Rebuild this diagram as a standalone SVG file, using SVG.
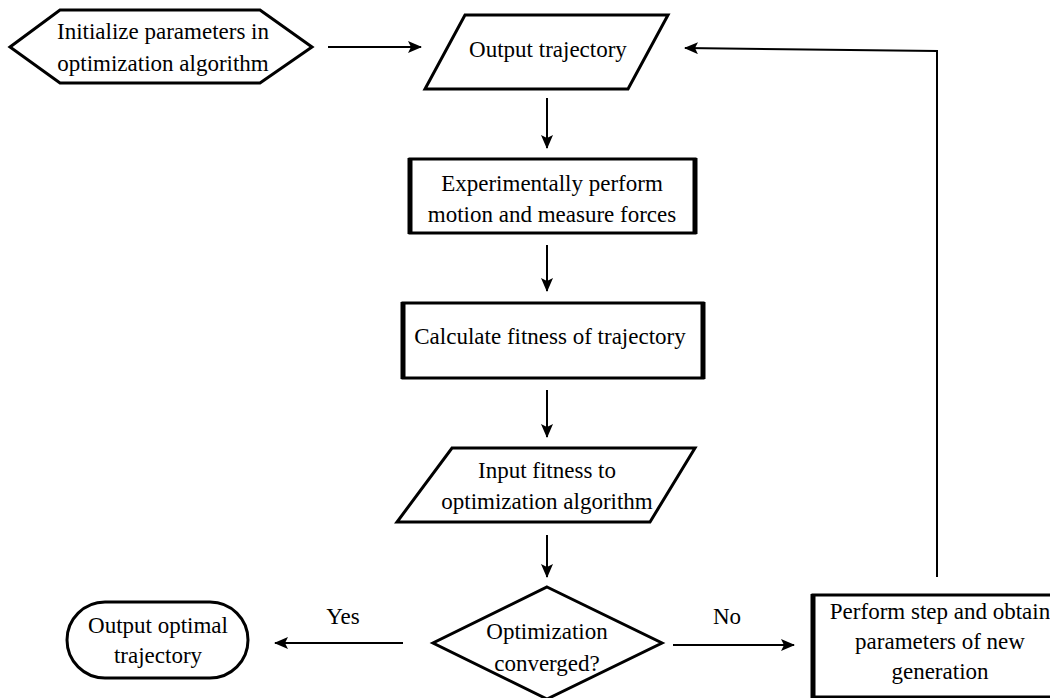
<svg xmlns="http://www.w3.org/2000/svg" width="1050" height="698" viewBox="0 0 1050 698">
<style>
.s{fill:#fff;stroke:#000;stroke-width:3;stroke-linejoin:miter}
.b{fill:none;stroke:#000;stroke-width:5}
.t{font-family:'Liberation Serif','Times New Roman',serif;font-size:23px;fill:#000;text-anchor:middle}
.c{fill:none;stroke:#000;stroke-width:2}
</style>
<defs>
<marker id="ah" markerWidth="14" markerHeight="12" refX="13" refY="6" orient="auto" markerUnits="userSpaceOnUse">
<path d="M0,0 L14,6 L0,12 L3,6 Z" fill="#000"/>
</marker>
</defs>
<rect width="1050" height="698" fill="#fff"/>
<g id="connectors">
<line class="c" x1="328" y1="47" x2="421" y2="47" marker-end="url(#ah)"/>
<line class="c" x1="547" y1="98" x2="547" y2="148" marker-end="url(#ah)"/>
<line class="c" x1="547" y1="245" x2="547" y2="291" marker-end="url(#ah)"/>
<line class="c" x1="547" y1="390" x2="547" y2="437" marker-end="url(#ah)"/>
<line class="c" x1="547" y1="535" x2="547" y2="577" marker-end="url(#ah)"/>
<line class="c" x1="403" y1="643" x2="275" y2="643" marker-end="url(#ah)"/>
<line class="c" x1="673" y1="645" x2="794" y2="645" marker-end="url(#ah)"/>
<polyline class="c" points="937,577 937,51 685,48" marker-end="url(#ah)"/>
<text class="t" x="343" y="624">Yes</text>
<text class="t" x="727" y="624">No</text>
</g>
<g id="init">
<polygon class="s" points="10,47 60,10 260,10 312,47 260,83 60,83"/>
<text class="t" x="163" y="39">Initialize parameters in</text>
<text class="t" x="163" y="71">optimization algorithm</text>
</g>
<g id="output-trajectory">
<polygon class="s" points="465,15 668,15 628,89 425,89"/>
<text class="t" x="548" y="57">Output trajectory</text>
</g>
<g id="experiment">
<rect class="s" x="410" y="159" width="285" height="74"/>
<line class="b" x1="410" y1="158" x2="410" y2="234"/>
<line class="b" x1="695" y1="158" x2="695" y2="234"/>
<text class="t" x="552" y="191">Experimentally perform</text>
<text class="t" x="552" y="222">motion and measure forces</text>
</g>
<g id="calculate">
<rect class="s" x="403" y="303" width="300" height="75"/>
<line class="b" x1="403" y1="302" x2="403" y2="379"/>
<line class="b" x1="703" y1="302" x2="703" y2="379"/>
<text class="t" x="550" y="344">Calculate fitness of trajectory</text>
</g>
<g id="input-fitness">
<polygon class="s" points="452,448 695,448 650,522 397,522"/>
<text class="t" x="547" y="478">Input fitness to</text>
<text class="t" x="547" y="509">optimization algorithm</text>
</g>
<g id="decision">
<polygon class="s" points="547,587 662,643 547,699 433,643"/>
<text class="t" x="547" y="639">Optimization</text>
<text class="t" x="547" y="671">converged?</text>
</g>
<g id="output-optimal">
<rect class="s" x="67" y="602" width="181" height="76" rx="38" ry="38"/>
<text class="t" x="158" y="633">Output optimal</text>
<text class="t" x="158" y="663">trajectory</text>
</g>
<g id="perform-step">
<rect class="s" x="813" y="595" width="260" height="102"/>
<line class="b" x1="813" y1="594" x2="813" y2="698"/>
<text class="t" x="940" y="619">Perform step and obtain</text>
<text class="t" x="940" y="649">parameters of new</text>
<text class="t" x="940" y="679">generation</text>
</g>
</svg>
